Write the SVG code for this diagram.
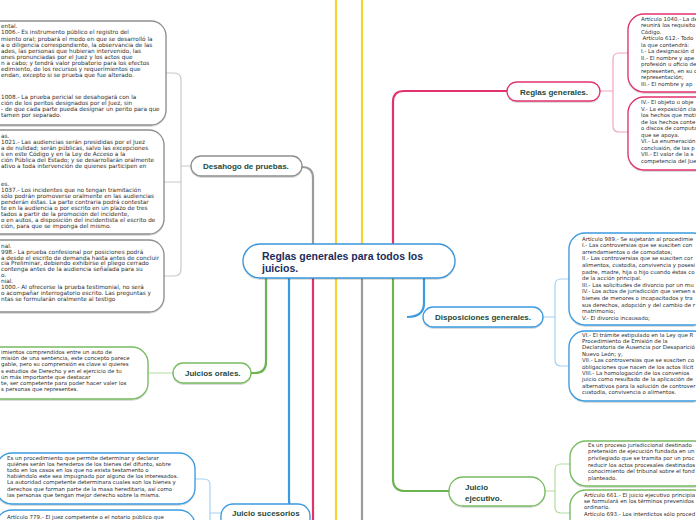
<svg xmlns="http://www.w3.org/2000/svg" width="696" height="520" viewBox="0 0 696 520">
<defs>
<filter id="sh" x="-10%" y="-20%" width="120%" height="150%"><feDropShadow dx="0" dy="1" stdDeviation="0.6" flood-color="#000" flood-opacity="0.18"/></filter>
<style>
.t{font-family:"DejaVu Sans",Verdana,sans-serif;font-size:5.45px;fill:#2e2e2e}
.t.g{font-size:5.75px}
.lbl{font-family:"Liberation Sans",Arial,sans-serif;font-weight:bold;font-size:8px;fill:#1e4a3c}
.ctr{font-family:"Liberation Sans",Arial,sans-serif;font-weight:bold;font-size:10.5px;fill:#1b2c5c}
.bx{fill:#fff;stroke-width:1.3;filter:url(#sh)}
.gray{stroke:#8e8e8e}.pink{stroke:#e2336c}.blue{stroke:#3a9be0}.green{stroke:#76bb5f}
.tr{fill:none;stroke-width:2.2}
.br{fill:none;stroke-width:1.2}
</style>
</defs>
<rect width="696" height="520" fill="#fff"/>
<g id="connectors">
<path class="tr" stroke="#9b9b9b" d="M302,167 Q313,167 313,178 V244"/>
<path class="tr" stroke="#9b9b9b" d="M362,278 V520"/>
<path class="tr" stroke="#f6d330" d="M336,0 V244 M362,0 V244 M336,278 V520"/>
<path class="tr" stroke="#e2336c" d="M507,91 H404 Q393,91 393,102 V244 M313,278 V520"/>
<path class="tr" stroke="#6cb351" d="M266,278 V362 Q266,373 255,373 H251 M393,278 V479 Q393,491 405,491 H449"/>
<path class="tr" stroke="#3a9be0" d="M289,278 V500 Q289,512 301,512 H310 M424,278 V303 Q424,317 407,317"/>
<path class="br" stroke="#c9c9c9" d="M166,73 H174 Q181,73 181,80 V269 Q181,276 174,276 H164 M164,182 H181 M181,166 H191"/>
<path class="br" stroke="#b3dba3" d="M148,373 H173 M545,491 H555 M570,464 H561 Q555,464 555,470 V507 Q555,513 561,513 H570"/>
<path class="br" stroke="#f2a3bd" d="M600,91 H613 M628,53 H619 Q613,53 613,59 V126 Q613,132 619,132 H628"/>
<path class="br" stroke="#a5d2f2" d="M543,317 H555 M569,279 H561 Q555,279 555,285 V360 Q555,366 561,366 H569 M195,479 H204 Q210,479 210,485 V520 M210,513 H221"/>
</g>
<g id="center">
<rect class="bx" x="243" y="244" width="212" height="34" rx="17" stroke="#3b95d8" stroke-width="1.4"/>
<text class="ctr" x="262" y="260">Reglas generales para todos los</text>
<text class="ctr" x="262" y="272">juicios.</text>
</g>
<g id="desahogo">
<rect class="bx gray" x="191" y="156" width="111" height="20" rx="10"/>
<text class="lbl" x="203" y="169">Desahogo de pruebas.</text>
</g>
<g id="box-g1">
<rect class="bx gray" x="-20" y="21" width="186" height="104" rx="15"/>
<text class="t g"><tspan x="1" y="28.3">ental.</tspan><tspan x="1" y="34.4">1006.- Es instrumento público el registro del</tspan><tspan x="1" y="40.5">miento oral; probará el  modo en que se desarrolló la</tspan><tspan x="1" y="46.6">a o diligencia correspondiente, la observancia de las</tspan><tspan x="1" y="52.7">ades, las personas que hubieran intervenido, las</tspan><tspan x="1" y="58.8">ones pronunciadas por el Juez y los actos que</tspan><tspan x="1" y="64.9">n a cabo; y tendrá valor probatorio para los efectos</tspan><tspan x="1" y="71">edimiento, de los recursos y requerimientos que</tspan><tspan x="1" y="77.1">endan, excepto si se prueba que fue alterado.</tspan><tspan x="1" y="99.3">1008.- La prueba pericial se desahogará con la</tspan><tspan x="1" y="105.2">ción de los peritos designados por el Juez, sin</tspan><tspan x="1" y="111.1">- de que cada parte pueda designar un perito para que</tspan><tspan x="1" y="117">tamen por separado.</tspan></text>
</g>
<g id="box-g2">
<rect class="bx gray" x="-20" y="130" width="184" height="104" rx="15"/>
<text class="t g"><tspan x="1" y="137.5">as.</tspan><tspan x="1" y="143.5">1021.- Las audiencias serán presididas por el Juez</tspan><tspan x="1" y="149.5">a de nulidad; serán públicas, salvo las excepciones</tspan><tspan x="1" y="155.5">s en este Código y en la Ley de Acceso a la</tspan><tspan x="1" y="161.5">ción Pública del Estado; y se desarrollarán oralmente</tspan><tspan x="1" y="167.5">ativo a toda intervención de quienes participen en</tspan><tspan x="1" y="185.5">es.</tspan><tspan x="1" y="191.5">1037.- Los incidentes que no tengan tramitación</tspan><tspan x="1" y="197.5">sólo podrán  promoverse oralmente en las audiencias</tspan><tspan x="1" y="203.5">penderán éstas. La parte contraria  podrá contestar</tspan><tspan x="1" y="209.5">te en la audiencia o por escrito en un plazo de tres</tspan><tspan x="1" y="215.5">tados a partir de la promoción del incidente,</tspan><tspan x="1" y="221.5">o en autos, a disposición del incidentista el escrito de</tspan><tspan x="1" y="227.5">ción, para que se imponga del mismo.</tspan></text>
</g>
<g id="box-g3">
<rect class="bx gray" x="-20" y="240" width="184" height="72" rx="15"/>
<text class="t g"><tspan x="1" y="247.7">nal.</tspan><tspan x="1" y="253.6">998.- La prueba confesional por posiciones podrá</tspan><tspan x="1" y="259.5">a desde el escrito de demanda hasta antes de concluir</tspan><tspan x="1" y="265.4">cia Preliminar, debiendo exhibirse el pliego cerrado</tspan><tspan x="1" y="271.3">contenga antes de la audiencia señalada para su</tspan><tspan x="1" y="277.2">o.</tspan><tspan x="1" y="283.1">nial.</tspan><tspan x="1" y="289">1000.- Al ofrecerse la prueba testimonial, no será</tspan><tspan x="1" y="294.9">o acompañar  interrogatorio escrito. Las preguntas y</tspan><tspan x="1" y="300.8">ntas se formularán oralmente al testigo</tspan></text>
</g>
<g id="juicios-orales">
<rect class="bx green" x="173" y="363" width="78" height="20" rx="10"/>
<text class="lbl" x="185" y="376">Juicios orales.</text>
</g>
<g id="box-orales">
<rect class="bx green" x="-20" y="347" width="168" height="52" rx="16"/>
<text class="t"><tspan x="1" y="354">imientos comprendidos entre un auto de</tspan><tspan x="1" y="360.2">misión de una sentencia, este concepto parece</tspan><tspan x="1" y="366.4">gable, pero su comprensión es clave si quieres</tspan><tspan x="1" y="372.6">s estudios de Derecho y en el ejercicio de tu</tspan><tspan x="1" y="378.8">ún más importante que destacar</tspan><tspan x="1" y="385">te, ser competente para poder hacer valer los</tspan><tspan x="1" y="391.2">s personas que representes.</tspan></text>
</g>
<g id="juicio-sucesorios">
<rect class="bx blue" x="221" y="504" width="89" height="30" rx="12"/>
<text class="lbl" x="232" y="516">Juicio sucesorios</text>
</g>
<g id="box-suc1">
<rect class="bx blue" x="-4" y="453" width="199" height="51" rx="16"/>
<text class="t"><tspan x="7" y="460">Es un procedimiento que permite determinar y declarar</tspan><tspan x="7" y="466.1">quiénes serán los herederos de los bienes del difunto, sobre</tspan><tspan x="7" y="472.2">todo en los casos en los que no exista testamento o</tspan><tspan x="7" y="478.3">habiéndolo este sea impugnado por alguno de los interesados.</tspan><tspan x="7" y="484.4">La autoridad competente determinara cuales son los bienes y</tspan><tspan x="7" y="490.5">derechos que forman parte de la masa hereditaria, así como</tspan><tspan x="7" y="496.6">las personas que tengan mejor derecho sobre la misma.</tspan></text>
</g>
<g id="box-suc2">
<rect class="bx blue" x="-4" y="510" width="199" height="30" rx="16"/>
<text class="t" x="7" y="518.5">Artículo 779.- El juez competente o el notario público que</text>
</g>
<g id="reglas-generales">
<rect class="bx pink" x="507" y="82" width="93" height="19" rx="9.5"/>
<text class="lbl" x="520" y="94.5">Reglas generales.</text>
</g>
<g id="box-pink1">
<rect class="bx pink" x="628" y="14" width="90" height="78" rx="16"/>
<text class="t"><tspan x="641" y="20.7">Artículo 1040.- La de</tspan><tspan x="641" y="27.2">reunirá los requisito</tspan><tspan x="641" y="33.7">Código.</tspan><tspan x="642.5" y="40.2">Artículo 612.- Todo</tspan><tspan x="641" y="46.7">la que contendrá:</tspan><tspan x="641" y="53.2">I.- La designación d</tspan><tspan x="641" y="59.7">II.- El nombre y ape</tspan><tspan x="641" y="66.2">profesión u oficio de</tspan><tspan x="641" y="72.7">representen, en su c</tspan><tspan x="641" y="79.2">representación;</tspan><tspan x="641" y="85.7">III.- El nombre y ap</tspan></text>
</g>
<g id="box-pink2">
<rect class="bx pink" x="628" y="97" width="90" height="73" rx="16"/>
<text class="t"><tspan x="641" y="104">IV.- El objeto u obje</tspan><tspan x="641" y="110.5">V.- La exposición cla</tspan><tspan x="641" y="117">los hechos que moti</tspan><tspan x="641" y="123.5">de los hechos conte</tspan><tspan x="641" y="130">o discos de computa</tspan><tspan x="641" y="136.5">que se  apoya.</tspan><tspan x="641" y="143">VI.- La enumeración</tspan><tspan x="641" y="149.5">conclusión, de las p</tspan><tspan x="641" y="156">VII.- El valor de la s</tspan><tspan x="641" y="162.5">competencia del Jue</tspan></text>
</g>
<g id="disposiciones">
<rect class="bx blue" x="423" y="307" width="120" height="20" rx="10"/>
<text class="lbl" x="435" y="320">Disposiciones generales.</text>
</g>
<g id="box-disp1">
<rect class="bx blue" x="569" y="233" width="140" height="92" rx="16"/>
<text class="t"><tspan x="582" y="240.5">Artículo 989.- Se sujetarán al procedimie</tspan><tspan x="582" y="247.1">I.- Las controversias que se susciten con</tspan><tspan x="582" y="253.7">arrendamientos o de comodatos;</tspan><tspan x="582" y="260.3">II.- Las controversias que se susciten cor</tspan><tspan x="582" y="266.9">alimentos, custodia, convivencia y posesi</tspan><tspan x="582" y="273.5">padre, madre, hija o hijo cuando éstas co</tspan><tspan x="582" y="280.1">de la acción principal.</tspan><tspan x="582" y="286.7">III.- Las solicitudes de divorcio por un mu</tspan><tspan x="582" y="293.3">IV.- Los actos de jurisdicción que versen s</tspan><tspan x="582" y="299.9">bienes de menores o   incapacitados y tra</tspan><tspan x="582" y="306.5">sus derechos, adopción y del cambio de r</tspan><tspan x="582" y="313.1">matrimonio;</tspan><tspan x="582" y="319.7">V.- El divorcio incausado;</tspan></text>
</g>
<g id="box-disp2">
<rect class="bx blue" x="569" y="331" width="140" height="70" rx="16"/>
<text class="t"><tspan x="582" y="336.6">VI.- El trámite estipulado en la Ley que R</tspan><tspan x="582" y="343">Procedimiento de Emisión de la</tspan><tspan x="582" y="349.4">Declaratoria de Ausencia por Desaparició</tspan><tspan x="582" y="355.8">Nuevo León; y,</tspan><tspan x="582" y="362.2">VII.- Las controversias que se susciten co</tspan><tspan x="582" y="368.6">obligaciones que nacen de los actos ilícit</tspan><tspan x="582" y="375">VIII.- La homologación de los convenios</tspan><tspan x="582" y="381.4">juicio como resultado de la aplicación de</tspan><tspan x="582" y="387.8">alternativos para la solución de controver</tspan><tspan x="582" y="394.2">custodia, convivencia o alimentos.</tspan></text>
</g>
<g id="juicio-ejecutivo">
<rect class="bx green" x="449" y="477" width="96" height="29" rx="14"/>
<text class="lbl"><tspan x="465" y="489.5">Juicio</tspan><tspan x="465" y="500.5">ejecutivo.</tspan></text>
</g>
<g id="box-ej1">
<rect class="bx green" x="570" y="441" width="140" height="45" rx="16"/>
<text class="t"><tspan x="588" y="446.7">Es un proceso jurisdiccional destinado</tspan><tspan x="588" y="453.3">pretensión de ejecución fundada en un</tspan><tspan x="588" y="459.9">privilegiado que se tramita por un proc</tspan><tspan x="588" y="466.5">reducir los actos procesales destinados</tspan><tspan x="588" y="473.1">conocimiento del tribunal sobre el fond</tspan><tspan x="588" y="479.7">planteado.</tspan></text>
</g>
<g id="box-ej2">
<rect class="bx green" x="570" y="490" width="140" height="50" rx="16"/>
<text class="t"><tspan x="584" y="496.7">Artículo 661.- El juicio ejecutivo principia</tspan><tspan x="584" y="503">se formulará en los términos prevenidos</tspan><tspan x="584" y="509.3">ordinario.</tspan><tspan x="584" y="515.6">Artículo 693.- Los interdictos sólo proced</tspan></text>
</g>
</svg>
